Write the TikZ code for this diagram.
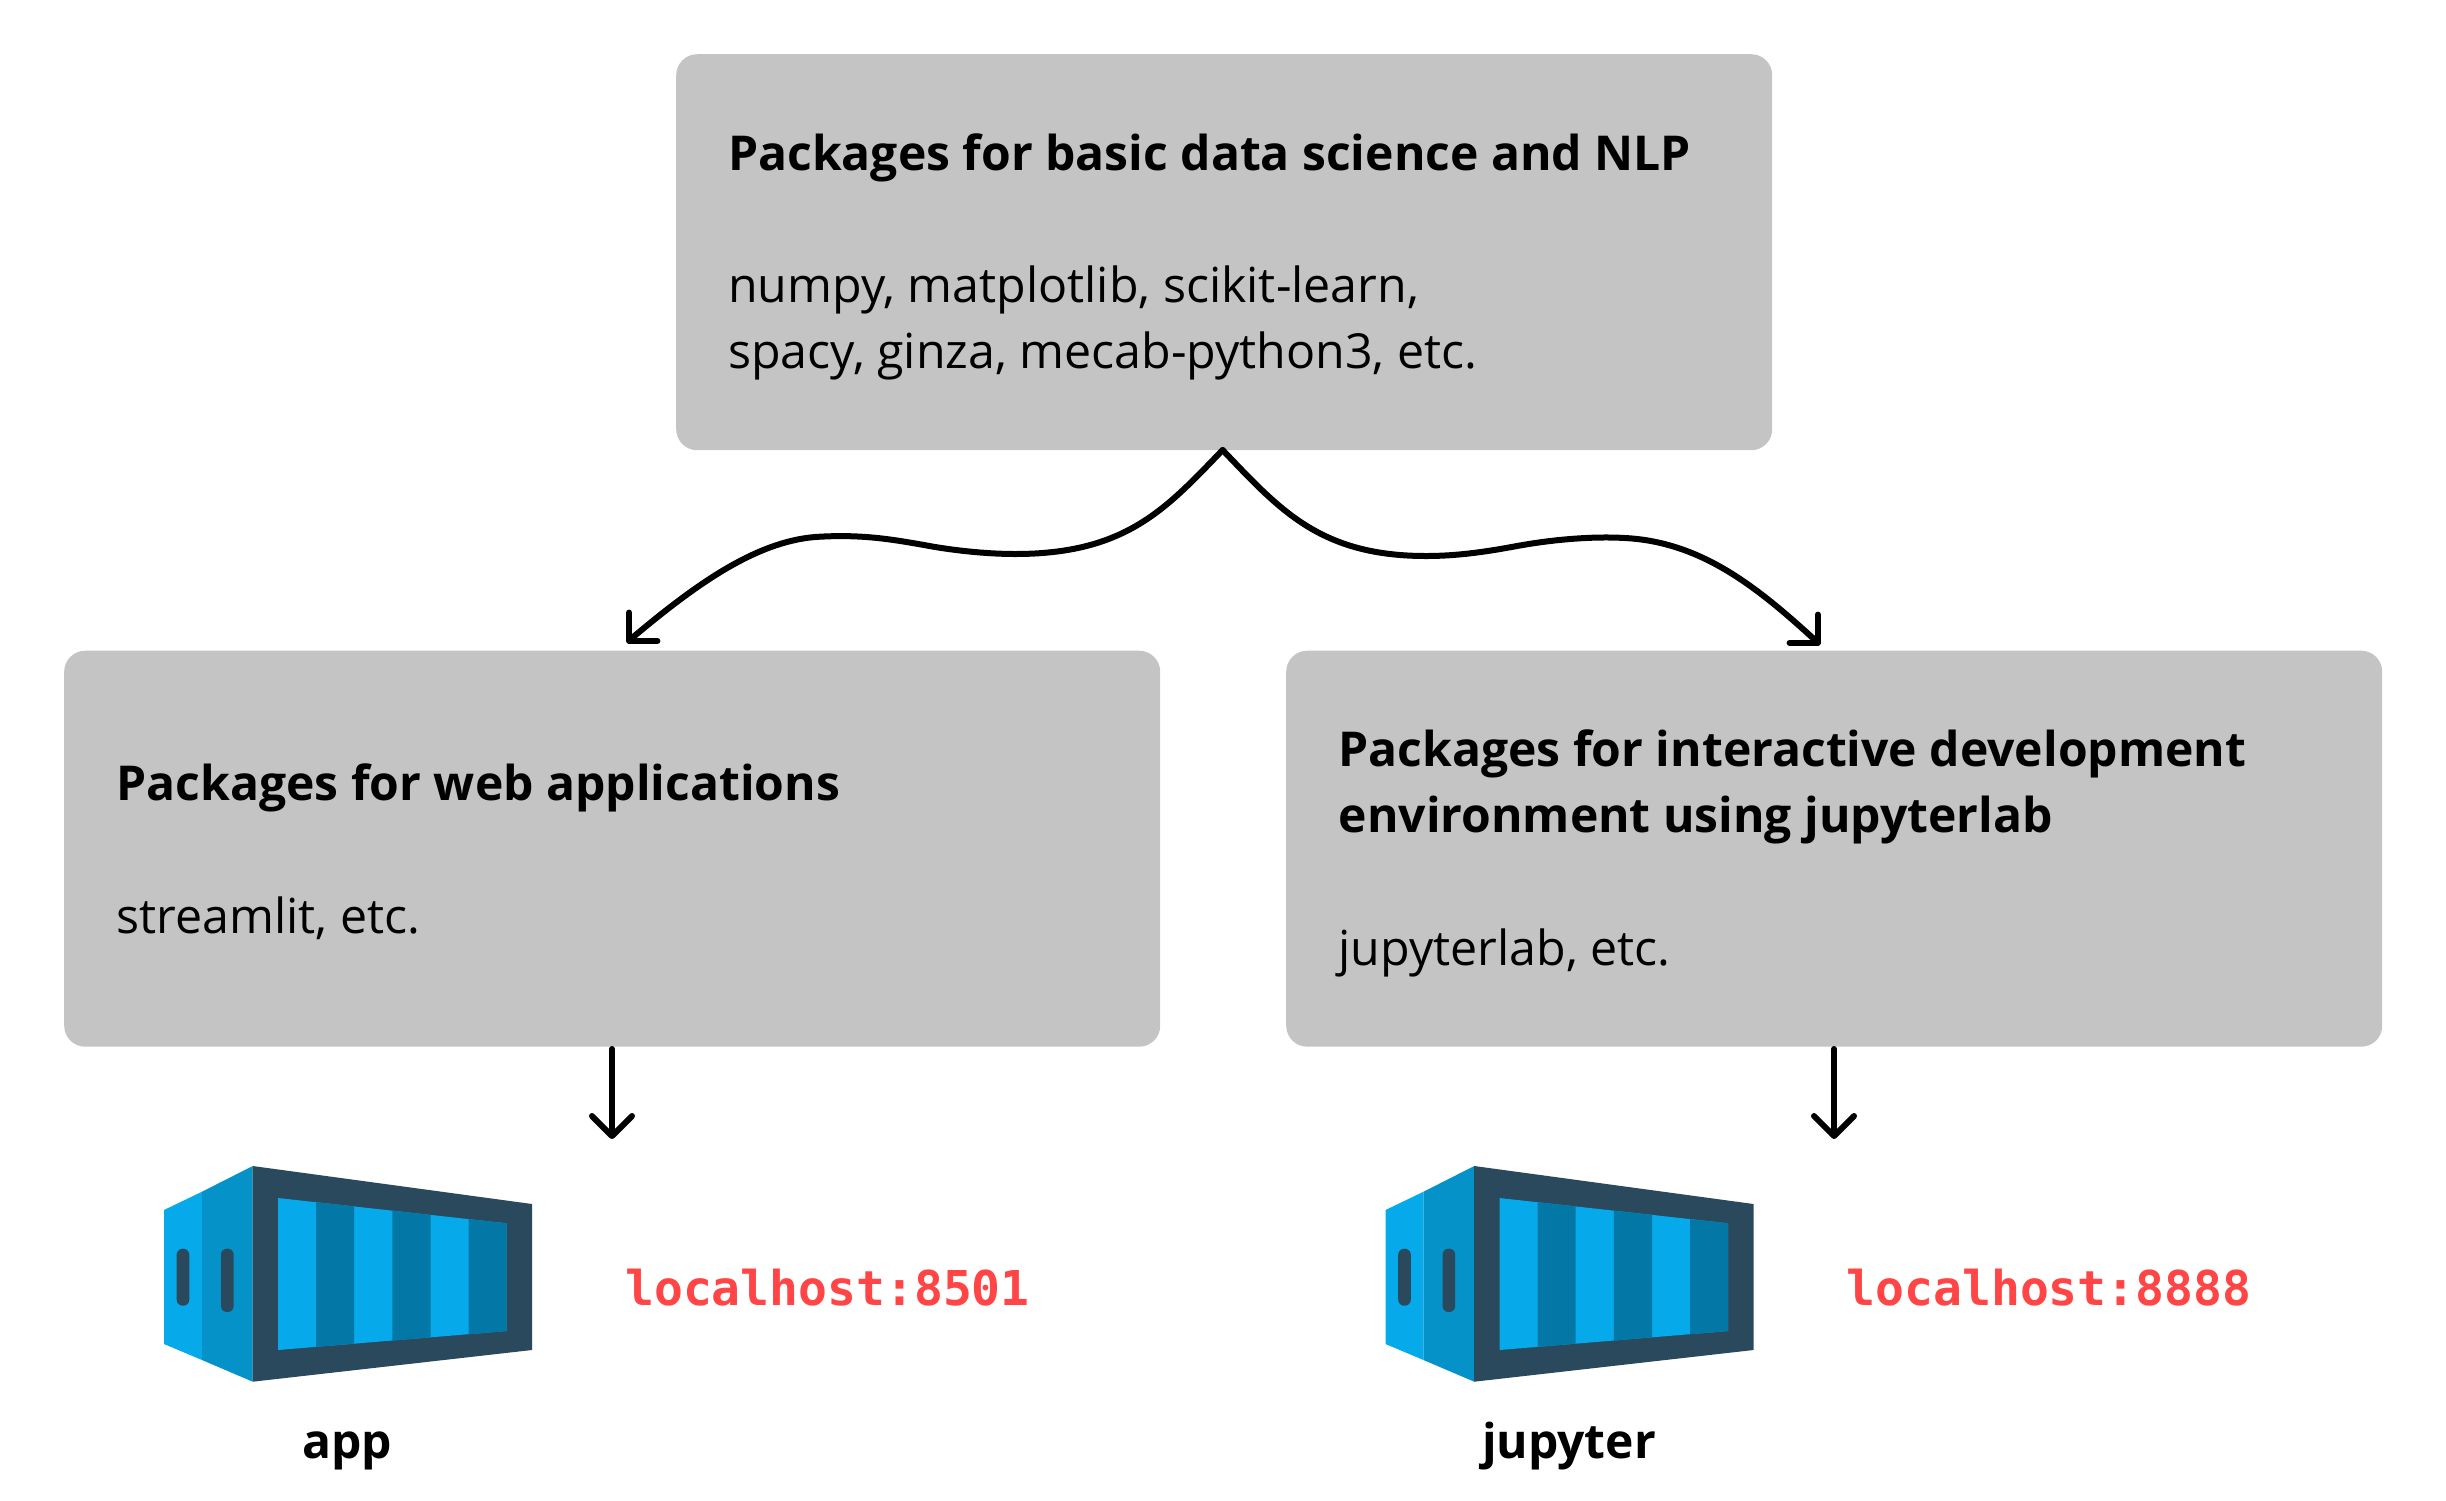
\documentclass[tikz,border=0pt]{standalone}
\usepackage{fontspec}
\setmainfont{Open Sans}
\newfontfamily\portfont{DejaVu Sans Mono}
\usetikzlibrary{arrows.meta}
\definecolor{boxgray}{HTML}{C4C4C4}
\definecolor{cdark}{HTML}{2A495C}
\definecolor{clight}{HTML}{06A9E9}
\definecolor{cmid}{HTML}{0492C8}
\definecolor{cstripe}{HTML}{0378A6}
\definecolor{portred}{HTML}{FF4545}
\tikzset{
  x=1pt,y=-1pt,
  pkgbox/.style={fill=boxgray,rounded corners=21pt,inner sep=0pt,anchor=north west,draw=none},
  head/.style={anchor=base west,inner sep=0pt,font=\fontsize{48.05}{58}\selectfont\bfseries},
  body/.style={anchor=base west,inner sep=0pt,font=\fontsize{48.3}{58}\selectfont},
  svc/.style={anchor=base,inner sep=0pt,font=\fontsize{48}{58}\selectfont\bfseries},
  port/.style={anchor=base west,inner sep=0pt,text=portred,font=\fontsize{48}{58}\selectfont\portfont\bfseries},
  link/.style={line width=6pt,line cap=round,line join=round,-{Straight Barb[length=20pt,width=40pt,line width=6pt,round]}},
  pics/container/.style={code={
    \fill[clight] (164,1210)--(202,1191.7)--(202,1360)--(164,1344)--cycle;
    \fill[cmid] (202,1191.7)--(252.7,1166)--(252.7,1381.7)--(202,1360)--cycle;
    \fill[cdark] (252.7,1166)--(532,1204)--(532,1350)--(252.7,1381.7)--cycle;
    \fill[clight] (278,1198)--(506.7,1223.3)--(506.7,1331)--(278,1350)--cycle;
    \fill[cstripe] (316,1202.2)--(354.2,1206.4)--(354.2,1343.6)--(316,1346.8)--cycle;
    \fill[cstripe] (392.4,1210.7)--(430.5,1214.9)--(430.5,1337.3)--(392.4,1340.5)--cycle;
    \fill[cstripe] (468.6,1219.1)--(506.7,1223.3)--(506.7,1331)--(468.6,1334.2)--cycle;
    \fill[cdark,rounded corners=6pt] (176.7,1248.7) rectangle (189.3,1305.7);
    \fill[cdark,rounded corners=6pt] (221,1248.7) rectangle (233.7,1312);
  }}
}
\begin{document}
\begin{tikzpicture}
\useasboundingbox (0,0) rectangle (2446,1500);
\node[pkgbox,minimum width=1096pt,minimum height=396pt] (top) at (676,54) {};
\node[pkgbox,minimum width=1096pt,minimum height=396pt] (web) at (64,650.5) {};
\node[pkgbox,minimum width=1096pt,minimum height=396pt] (dev) at (1286,650.5) {};

\node[head] (t1) at (728,170) {Packages for basic data science and NLP};
\node[body] (t2) at (728,302) {numpy, matplotlib, scikit-learn,};
\node[body] (t3) at (728,368) {spacy, ginza, mecab-python3, etc.};
\node[head] (w1) at (116.5,800) {Packages for web applications};
\node[body] (w2) at (116.5,933) {streamlit, etc.};
\node[head] (d1) at (1338.5,766) {Packages for interactive development};
\node[head] (d2) at (1338.5,832) {environment using jupyterlab};
\node[body] (d3) at (1338.5,965) {jupyterlab, etc.};

\coordinate (apex) at (1222.6,450);
\coordinate (lend) at (627,643);
\coordinate (rend) at (1820,645);
\coordinate (aend) at (612,1139);
\coordinate (bend) at (1834,1139);
\coordinate (astart) at (612,1049);
\coordinate (bstart) at (1834,1049);

\draw[link] (apex) .. controls (1165,510) and (1125,554) .. (1015,554)
  .. controls (985,554) and (950,550) .. (924,545)
  .. controls (890,539) and (860,534) .. (815,537)
  .. controls (755,542) and (695,585) .. (632,638) -- (lend);
\draw[link] (apex) .. controls (1280,510) and (1320,556) .. (1426,556)
  .. controls (1460,556) and (1490,551) .. (1517,546)
  .. controls (1550,540) and (1590,536) .. (1625,538)
  .. controls (1700,542) and (1755,585) .. (1815,640) -- (rend);
\draw[link] (astart) -- (aend);
\draw[link] (bstart) -- (bend);

\pic {container};
\pic[xshift=1221.5pt] {container};

\node[port] (p1) at (625,1305) {localhost:8501};
\node[port] (p2) at (1846.5,1305) {localhost:8888};
\node[svc] (s1) at (347,1458) {app};
\node[svc] (s2) at (1569,1458) {jupyter};
\end{tikzpicture}
\end{document}
